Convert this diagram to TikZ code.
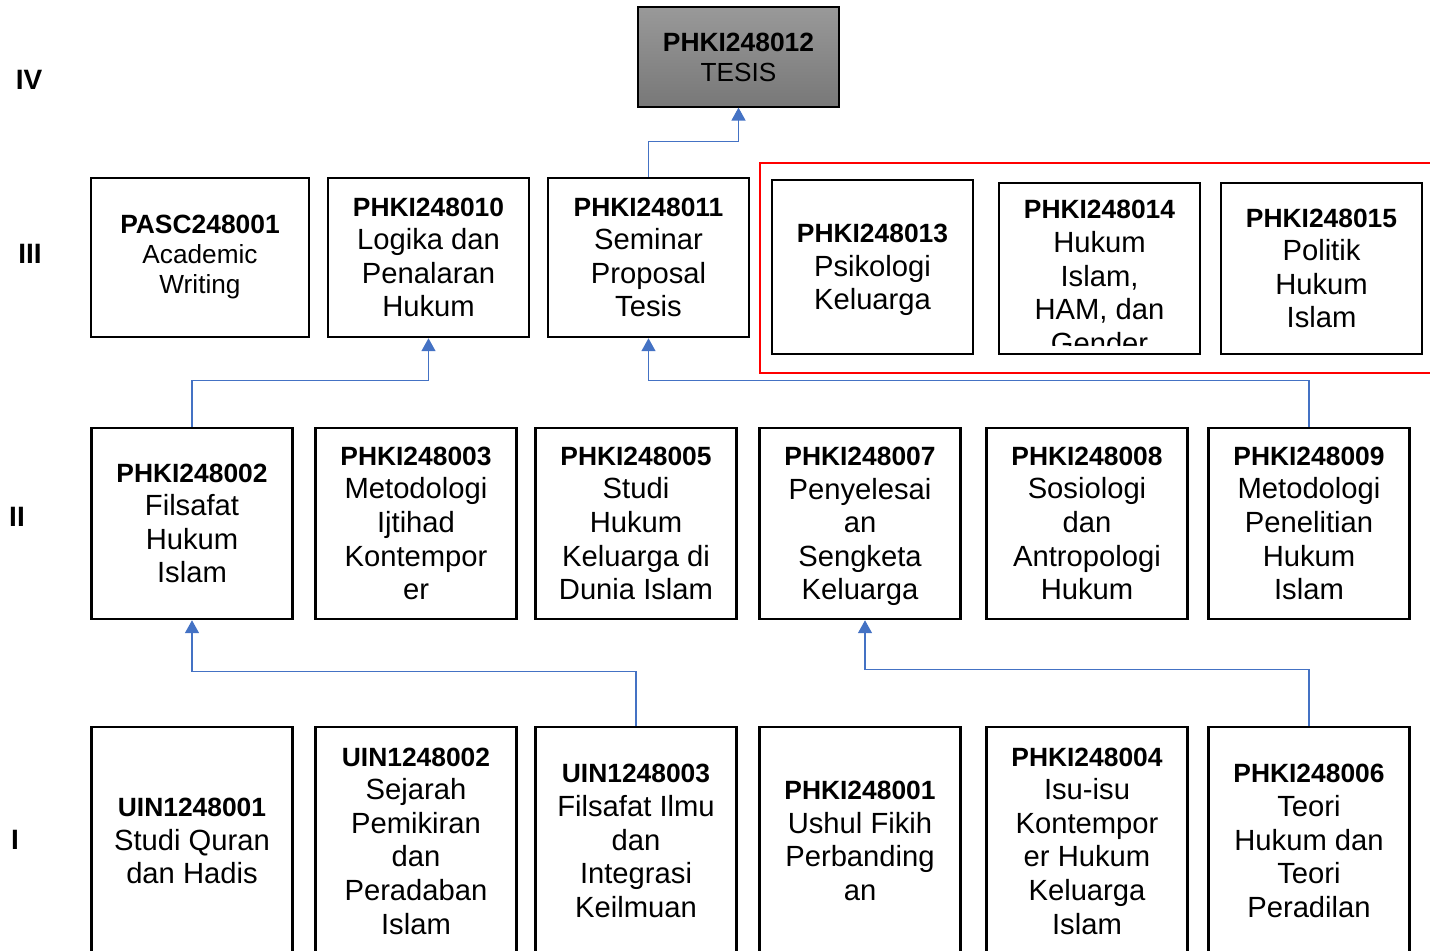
\documentclass[tikz,border=0pt]{standalone}
\usepackage{fontspec}
\setmainfont{Liberation Sans}
\usepackage{tikz}
\usetikzlibrary{arrows.meta,positioning,calc}

\definecolor{linkblue}{HTML}{4472C4}
\newcommand{\cid}[1]{{\fontsize{13.2}{16.5}\selectfont\bfseries #1}}

\begin{document}
\begin{tikzpicture}[
          x=0.5pt, y=-0.5pt,
          every node/.style={font=\fontsize{14.6}{16.8}\selectfont},
          box/.style={rectangle, draw, line width=1.25pt, minimum width=100.5pt, align=center, inner sep=0pt},
          rowthree/.style={box, minimum height=79.5pt},
          rowtwo/.style={box, minimum height=95.5pt},
          rowone/.style={box, minimum height=114pt},
          small/.style={font=\fontsize{13.1}{15}\selectfont},
          level/.style={font=\fontsize{14}{16}\selectfont\bfseries},
          link/.style={-{Triangle[width=7pt,length=6.5pt]}, linkblue, line width=0.75pt}
        ]
          \clip (0,0) rectangle (1430,951);

          % Levels
          \node[level] (lv4) at (29,80) {IV};
          \node[level] (lv3) at (30,254) {III};
          \node[level] (lv2) at (17,517) {II};
          \node[level] (lv1) at (15,840) {I};

          % Semester IV
          \node[box, small, line width=0.6pt, minimum height=50pt, top color=black!40, bottom color=black!53] (tesis) at (738.5,57) {\cid{PHKI248012}\\TESIS};

          % Semester III
          \node[rowthree, small, minimum width=109pt] (pasc) at (200,257.5) {\cid{PASC248001}\\Academic\\Writing};
          \node[rowthree] (k10) at (428.5,257.5) {\cid{PHKI248010}\\Logika dan\\Penalaran\\Hukum};
          \node[rowthree] (k11) at (648.5,257.5) {\cid{PHKI248011}\\Seminar\\Proposal\\Tesis};

          % Elective courses
          \node[draw=red, line width=1.25pt, minimum width=340pt, minimum height=105pt] (elective) at (1100,268) {};
          \node[box, minimum height=87pt] (k13) at (872.5,267) {\cid{PHKI248013}\\Psikologi\\\smash{Keluarga}};
          \coordinate (k14c) at (1099.5,268.5);
          \begin{scope}
            \clip ([shift={(-100pt,42.75pt)}]k14c) rectangle ([shift={(100pt,-38.5pt)}]k14c);
            \node[align=center, inner sep=0pt] (k14text) at (1099.5,277) {\cid{PHKI248014}\\Hukum\\Islam,\\HAM, dan\\Gender};
          \end{scope}
          \node[box, minimum height=85.5pt] (k14) at (k14c) {};
          \node[box, minimum height=85.5pt] (k15) at (1321.5,268.5) {\cid{PHKI248015}\\Politik\\Hukum\\Islam};

          % Semester II
          \node[rowtwo] (k02) at (192,523.5) {\cid{PHKI248002}\\Filsafat\\Hukum\\Islam};
          \node[rowtwo] (k03) at (416,523.5) {\cid{PHKI248003}\\Metodologi\\Ijtihad\\Kontempor\\er};
          \node[rowtwo] (k05) at (636,523.5) {\cid{PHKI248005}\\Studi\\Hukum\\Keluarga di\\Dunia Islam};
          \node[rowtwo] (k07) at (860,523.5) {\cid{PHKI248007}\\Penyelesai\\an\\Sengketa\\\smash{Keluarga}};
          \node[rowtwo] (k08) at (1087,523.5) {\cid{PHKI248008}\\Sosiologi\\dan\\Antropologi\\Hukum};
          \node[rowtwo] (k09) at (1309,523.5) {\cid{PHKI248009}\\Metodologi\\Penelitian\\Hukum\\Islam};

          % Semester I
          \node[rowone] (u01) at (192,841) {\cid{UIN1248001}\\Studi Quran\\dan Hadis};
          \node[rowone] (u02) at (416,841) {\cid{UIN1248002}\\Sejarah\\Pemikiran\\dan\\Peradaban\\Islam};
          \node[rowone] (u03) at (636,841) {\cid{UIN1248003}\\Filsafat Ilmu\\dan\\Integrasi\\Keilmuan};
          \node[rowone] (k01) at (860,841) {\cid{PHKI248001}\\Ushul Fikih\\Perbanding\\an};
          \node[rowone] (k04) at (1087,841) {\cid{PHKI248004}\\Isu-isu\\Kontempor\\er Hukum\\Keluarga\\Islam};
          \node[rowone] (k06) at (1309,841) {\cid{PHKI248006}\\Teori\\Hukum dan\\Teori\\Peradilan};

          % Prerequisites
          \draw[link] (k11.north) -- ++(0,-35) -| (tesis.south);
          \draw[link] (k02.north) -- ++(0,-46) -| (k10.south);
          \draw[link] (k09.north) -- ++(0,-46) -| (k11.south);
          \draw[link] (u03.north) -- ++(0,-54) -| (k02.south);
          \draw[link] (k06.north) -- ++(0,-56) -| ([xshift=2.5pt]k07.south);

        \end{tikzpicture}
\end{document}
